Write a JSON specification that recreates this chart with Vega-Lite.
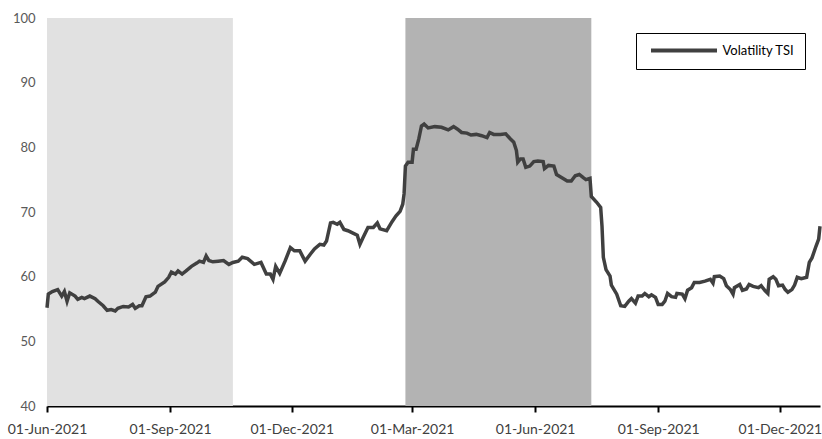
{
  "$schema": "https://vega.github.io/schema/vega-lite/v6.json",
  "width": 773,
  "height": 388,
  "autosize": {"type": "none"},
  "padding": {"left": 47, "top": 18, "right": 2, "bottom": 33},
  "background": "white",
  "config": {
    "view": {"stroke": null},
    "font": "Lato",
    "legend": {
      "orient": "none",
      "legendX": 589,
      "legendY": 15,
      "strokeColor": "#000000",
      "fillColor": "#ffffff",
      "padding": 10,
      "symbolType": "M-6,0H6",
      "symbolSize": 121,
      "symbolStrokeWidth": 4,
      "symbolOffset": 30.5,
      "labelFontSize": 13,
      "labelColor": "#000000",
      "labelOffset": 31,
      "title": null
    }
  },
  "datasets": {
    "tsi": [
      {"date": "2020/06/01", "value": 55.2},
      {"date": "2020/06/02", "value": 57.3},
      {"date": "2020/06/05", "value": 57.7},
      {"date": "2020/06/09", "value": 58.0},
      {"date": "2020/06/12", "value": 57.0},
      {"date": "2020/06/14", "value": 57.7},
      {"date": "2020/06/16", "value": 56.2},
      {"date": "2020/06/18", "value": 57.5},
      {"date": "2020/06/22", "value": 57.0},
      {"date": "2020/06/24", "value": 56.5},
      {"date": "2020/06/27", "value": 56.8},
      {"date": "2020/06/29", "value": 56.6},
      {"date": "2020/07/03", "value": 57.0},
      {"date": "2020/07/07", "value": 56.6},
      {"date": "2020/07/09", "value": 56.2},
      {"date": "2020/07/13", "value": 55.5},
      {"date": "2020/07/16", "value": 54.8},
      {"date": "2020/07/19", "value": 54.9},
      {"date": "2020/07/22", "value": 54.7},
      {"date": "2020/07/24", "value": 55.1},
      {"date": "2020/07/28", "value": 55.4},
      {"date": "2020/08/01", "value": 55.3},
      {"date": "2020/08/04", "value": 55.7},
      {"date": "2020/08/06", "value": 55.1},
      {"date": "2020/08/09", "value": 55.5},
      {"date": "2020/08/11", "value": 55.5},
      {"date": "2020/08/14", "value": 56.9},
      {"date": "2020/08/17", "value": 57.0},
      {"date": "2020/08/21", "value": 57.6},
      {"date": "2020/08/23", "value": 58.5},
      {"date": "2020/08/28", "value": 59.2},
      {"date": "2020/08/31", "value": 59.9},
      {"date": "2020/09/02", "value": 60.7},
      {"date": "2020/09/05", "value": 60.4},
      {"date": "2020/09/07", "value": 60.9},
      {"date": "2020/09/10", "value": 60.4},
      {"date": "2020/09/13", "value": 60.9},
      {"date": "2020/09/17", "value": 61.6},
      {"date": "2020/09/21", "value": 62.1},
      {"date": "2020/09/23", "value": 62.4},
      {"date": "2020/09/26", "value": 62.2},
      {"date": "2020/09/28", "value": 63.2},
      {"date": "2020/09/30", "value": 62.5},
      {"date": "2020/10/03", "value": 62.3},
      {"date": "2020/10/07", "value": 62.4},
      {"date": "2020/10/11", "value": 62.5},
      {"date": "2020/10/15", "value": 61.9},
      {"date": "2020/10/18", "value": 62.2},
      {"date": "2020/10/22", "value": 62.4},
      {"date": "2020/10/25", "value": 63.0},
      {"date": "2020/10/29", "value": 62.8},
      {"date": "2020/11/03", "value": 61.9},
      {"date": "2020/11/08", "value": 62.2},
      {"date": "2020/11/12", "value": 60.4},
      {"date": "2020/11/15", "value": 60.4},
      {"date": "2020/11/17", "value": 59.6},
      {"date": "2020/11/19", "value": 61.6},
      {"date": "2020/11/22", "value": 60.5},
      {"date": "2020/11/26", "value": 62.4},
      {"date": "2020/11/30", "value": 64.5},
      {"date": "2020/12/03", "value": 64.0},
      {"date": "2020/12/07", "value": 64.0},
      {"date": "2020/12/11", "value": 62.4},
      {"date": "2020/12/15", "value": 63.5},
      {"date": "2020/12/18", "value": 64.3},
      {"date": "2020/12/22", "value": 65.0},
      {"date": "2020/12/25", "value": 64.9},
      {"date": "2020/12/27", "value": 65.5},
      {"date": "2020/12/30", "value": 68.3},
      {"date": "2021/01/01", "value": 68.4},
      {"date": "2021/01/04", "value": 68.1},
      {"date": "2021/01/06", "value": 68.4},
      {"date": "2021/01/09", "value": 67.3},
      {"date": "2021/01/12", "value": 67.1},
      {"date": "2021/01/15", "value": 66.8},
      {"date": "2021/01/19", "value": 66.4},
      {"date": "2021/01/21", "value": 65.0},
      {"date": "2021/01/23", "value": 65.9},
      {"date": "2021/01/27", "value": 67.6},
      {"date": "2021/01/31", "value": 67.6},
      {"date": "2021/02/03", "value": 68.3},
      {"date": "2021/02/05", "value": 67.4},
      {"date": "2021/02/10", "value": 67.1},
      {"date": "2021/02/14", "value": 68.5},
      {"date": "2021/02/17", "value": 69.4},
      {"date": "2021/02/20", "value": 70.1},
      {"date": "2021/02/22", "value": 71.2},
      {"date": "2021/02/23", "value": 72.8},
      {"date": "2021/02/24", "value": 77.1},
      {"date": "2021/02/26", "value": 77.7},
      {"date": "2021/03/01", "value": 77.7},
      {"date": "2021/03/02", "value": 79.7},
      {"date": "2021/03/04", "value": 79.7},
      {"date": "2021/03/06", "value": 81.3},
      {"date": "2021/03/08", "value": 83.3},
      {"date": "2021/03/10", "value": 83.6},
      {"date": "2021/03/13", "value": 83.0},
      {"date": "2021/03/18", "value": 83.2},
      {"date": "2021/03/23", "value": 83.1},
      {"date": "2021/03/28", "value": 82.7},
      {"date": "2021/04/01", "value": 83.2},
      {"date": "2021/04/04", "value": 82.8},
      {"date": "2021/04/07", "value": 82.3},
      {"date": "2021/04/11", "value": 82.2},
      {"date": "2021/04/14", "value": 81.9},
      {"date": "2021/04/18", "value": 82.0},
      {"date": "2021/04/22", "value": 81.8},
      {"date": "2021/04/26", "value": 81.5},
      {"date": "2021/04/28", "value": 82.3},
      {"date": "2021/05/01", "value": 82.0},
      {"date": "2021/05/06", "value": 82.0},
      {"date": "2021/05/10", "value": 82.1},
      {"date": "2021/05/13", "value": 81.4},
      {"date": "2021/05/16", "value": 80.8},
      {"date": "2021/05/18", "value": 79.5},
      {"date": "2021/05/19", "value": 77.7},
      {"date": "2021/05/21", "value": 78.2},
      {"date": "2021/05/23", "value": 78.2},
      {"date": "2021/05/25", "value": 76.9},
      {"date": "2021/05/28", "value": 77.1},
      {"date": "2021/05/31", "value": 77.8},
      {"date": "2021/06/03", "value": 77.9},
      {"date": "2021/06/07", "value": 77.8},
      {"date": "2021/06/08", "value": 76.7},
      {"date": "2021/06/11", "value": 77.2},
      {"date": "2021/06/15", "value": 77.1},
      {"date": "2021/06/17", "value": 75.8},
      {"date": "2021/06/21", "value": 75.3},
      {"date": "2021/06/25", "value": 74.8},
      {"date": "2021/06/28", "value": 74.8},
      {"date": "2021/07/01", "value": 75.6},
      {"date": "2021/07/04", "value": 75.8},
      {"date": "2021/07/07", "value": 75.3},
      {"date": "2021/07/09", "value": 75.0},
      {"date": "2021/07/12", "value": 75.2},
      {"date": "2021/07/13", "value": 72.4},
      {"date": "2021/07/17", "value": 71.5},
      {"date": "2021/07/20", "value": 70.7},
      {"date": "2021/07/21", "value": 67.8},
      {"date": "2021/07/22", "value": 63.0},
      {"date": "2021/07/24", "value": 61.1},
      {"date": "2021/07/27", "value": 60.1},
      {"date": "2021/07/28", "value": 58.7},
      {"date": "2021/08/01", "value": 57.3},
      {"date": "2021/08/04", "value": 55.5},
      {"date": "2021/08/07", "value": 55.4},
      {"date": "2021/08/10", "value": 56.2},
      {"date": "2021/08/12", "value": 56.6},
      {"date": "2021/08/15", "value": 55.9},
      {"date": "2021/08/17", "value": 57.0},
      {"date": "2021/08/20", "value": 57.0},
      {"date": "2021/08/22", "value": 57.4},
      {"date": "2021/08/25", "value": 56.9},
      {"date": "2021/08/27", "value": 57.2},
      {"date": "2021/08/30", "value": 56.8},
      {"date": "2021/09/01", "value": 55.7},
      {"date": "2021/09/04", "value": 55.7},
      {"date": "2021/09/06", "value": 56.2},
      {"date": "2021/09/08", "value": 57.4},
      {"date": "2021/09/11", "value": 56.9},
      {"date": "2021/09/14", "value": 56.8},
      {"date": "2021/09/15", "value": 57.4},
      {"date": "2021/09/19", "value": 57.3},
      {"date": "2021/09/21", "value": 56.6},
      {"date": "2021/09/23", "value": 57.9},
      {"date": "2021/09/26", "value": 58.3},
      {"date": "2021/09/28", "value": 59.1},
      {"date": "2021/10/02", "value": 59.1},
      {"date": "2021/10/06", "value": 59.3},
      {"date": "2021/10/10", "value": 59.6},
      {"date": "2021/10/12", "value": 59.0},
      {"date": "2021/10/13", "value": 60.0},
      {"date": "2021/10/17", "value": 60.1},
      {"date": "2021/10/20", "value": 59.7},
      {"date": "2021/10/22", "value": 58.6},
      {"date": "2021/10/25", "value": 58.0},
      {"date": "2021/10/27", "value": 57.3},
      {"date": "2021/10/28", "value": 58.3},
      {"date": "2021/11/01", "value": 58.8},
      {"date": "2021/11/03", "value": 57.9},
      {"date": "2021/11/06", "value": 58.1},
      {"date": "2021/11/08", "value": 58.8},
      {"date": "2021/11/11", "value": 58.5},
      {"date": "2021/11/15", "value": 58.3},
      {"date": "2021/11/17", "value": 58.6},
      {"date": "2021/11/20", "value": 57.8},
      {"date": "2021/11/22", "value": 57.4},
      {"date": "2021/11/23", "value": 59.6},
      {"date": "2021/11/26", "value": 60.0},
      {"date": "2021/11/28", "value": 59.6},
      {"date": "2021/11/30", "value": 58.6},
      {"date": "2021/12/03", "value": 58.7},
      {"date": "2021/12/05", "value": 58.0},
      {"date": "2021/12/07", "value": 57.6},
      {"date": "2021/12/10", "value": 58.0},
      {"date": "2021/12/12", "value": 58.7},
      {"date": "2021/12/14", "value": 59.9},
      {"date": "2021/12/17", "value": 59.7},
      {"date": "2021/12/21", "value": 59.9},
      {"date": "2021/12/23", "value": 62.2},
      {"date": "2021/12/25", "value": 62.9},
      {"date": "2021/12/28", "value": 64.7},
      {"date": "2021/12/30", "value": 65.8},
      {"date": "2021/12/31", "value": 67.8}
    ]
  },
  "layer": [
    {
      "data": {"values": [{"start": "2020/06/01", "end": "2020/10/18"}]},
      "mark": {"type": "rect", "color": "#E1E1E1"},
      "encoding": {
        "x": {
          "field": "start",
          "type": "temporal",
          "scale": {"domain": [{"year": 2020, "month": 6, "date": 1}, {"year": 2021, "month": 12, "date": 31}], "nice": false},
          "axis": {
            "values": [
              {"year": 2020, "month": 6, "date": 1},
              {"year": 2020, "month": 9, "date": 1},
              {"year": 2020, "month": 12, "date": 1},
              {"year": 2021, "month": 3, "date": 1},
              {"year": 2021, "month": 6, "date": 1},
              {"year": 2021, "month": 9, "date": 1},
              {"year": 2021, "month": 12, "date": 1}
            ],
            "labelExpr": "timeFormat(datum.value, '%d-%b-') + '2021'",
            "title": null,
            "grid": false,
            "domainColor": "#000000",
            "domainWidth": 2,
            "tickColor": "#000000",
            "tickWidth": 2,
            "tickSize": 6,
            "labelColor": "#404040",
            "labelFontSize": 14,
            "labelPadding": 10,
            "labelFlush": false,
            "labelOverlap": false
          }
        },
        "x2": {"field": "end"}
      }
    },
    {
      "data": {"values": [{"start": "2021/02/24", "end": "2021/07/13"}]},
      "mark": {"type": "rect", "color": "#B3B3B3"},
      "encoding": {
        "x": {"field": "start", "type": "temporal"},
        "x2": {"field": "end"}
      }
    },
    {
      "data": {"name": "tsi"},
      "mark": {"type": "line", "strokeWidth": 3.5, "interpolate": "linear"},
      "encoding": {
        "x": {"field": "date", "type": "temporal"},
        "y": {
          "field": "value",
          "type": "quantitative",
          "scale": {"domain": [40, 100], "nice": false, "zero": false},
          "axis": {
            "values": [40, 50, 60, 70, 80, 90, 100],
            "title": null,
            "grid": false,
            "domain": false,
            "ticks": false,
            "labelColor": "#595959",
            "labelFontSize": 13,
            "labelPadding": 12
          }
        },
        "color": {
          "datum": "Volatility TSI",
          "type": "nominal",
          "scale": {"range": ["#404040"]}
        }
      }
    }
  ]
}
